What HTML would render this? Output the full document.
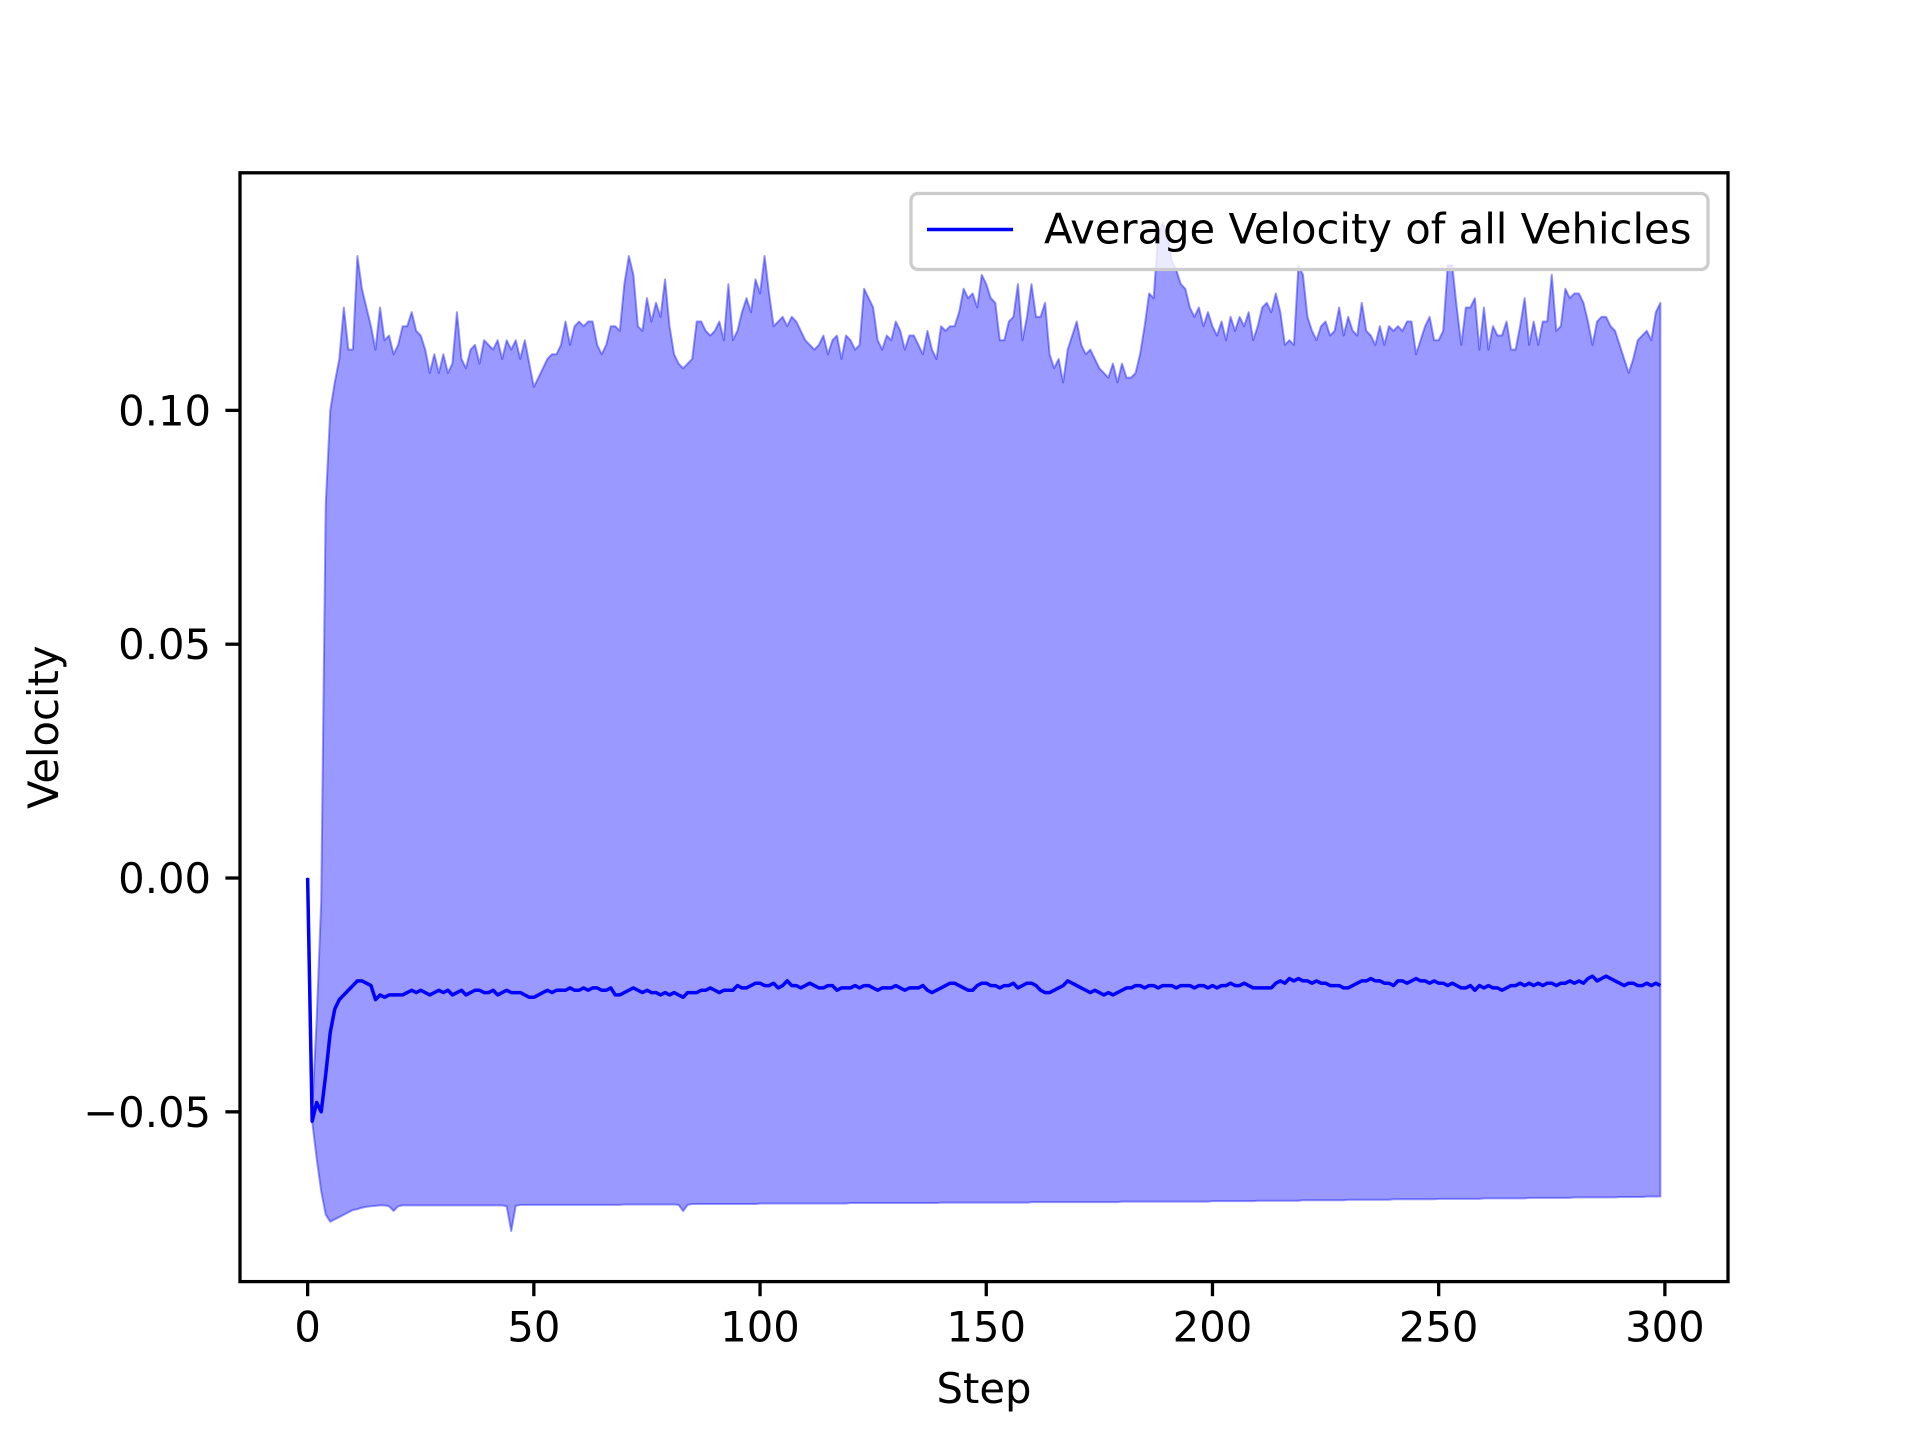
<!DOCTYPE html>
<html><head><meta charset="utf-8"><style>
html,body{margin:0;padding:0;background:#fff;}
svg{display:block;font-family:"DejaVu Sans","Liberation Sans",sans-serif;}
</style></head><body>
<svg id="chart" width="1920" height="1440" viewBox="0 0 1920 1440">
<rect width="1920" height="1440" fill="#fff"/>
<g id="plot"></g>
<g id="axes"></g>
</svg>
<script>
const steps = Array.from({length:300},(_,i)=>i);
const meanVel = [
0,-0.052,-0.048,-0.050,-0.042,-0.033,-0.028,-0.026,-0.025,-0.024,-0.023,
-0.022,-0.022,-0.0225,-0.023,-0.026,-0.025,-0.0255,-0.025,-0.025,
-0.025,-0.025,-0.0245,-0.024,-0.0245,-0.024,-0.0245,-0.025,-0.0245,-0.024,
-0.0245,-0.024,-0.025,-0.0245,-0.024,-0.025,-0.0245,-0.024,-0.024,-0.0245,
-0.0245,-0.024,-0.025,-0.0245,-0.024,-0.0245,-0.0245,-0.0245,-0.025,-0.0255,
-0.0255,-0.025,-0.0245,-0.024,-0.0245,-0.024,-0.024,-0.024,-0.0235,-0.024,
-0.024,-0.0235,-0.024,-0.0235,-0.0235,-0.024,-0.024,-0.0235,-0.025,-0.025,
-0.0245,-0.024,-0.0235,-0.024,-0.0245,-0.024,-0.0245,-0.0245,-0.025,-0.0245,
-0.025,-0.0245,-0.025,-0.0255,-0.0245,-0.0245,-0.0245,-0.024,-0.024,-0.0235,
-0.024,-0.0245,-0.024,-0.024,-0.024,-0.023,-0.0235,-0.0235,-0.023,-0.0225,
-0.0225,-0.023,-0.023,-0.0225,-0.0235,-0.023,-0.022,-0.023,-0.023,-0.0235,
-0.023,-0.0225,-0.023,-0.0235,-0.0235,-0.023,-0.023,-0.024,-0.0235,-0.0235,
-0.0235,-0.023,-0.0235,-0.023,-0.023,-0.0235,-0.024,-0.0235,-0.0235,-0.0235,
-0.023,-0.0235,-0.024,-0.0235,-0.0235,-0.0235,-0.023,-0.024,-0.0245,-0.024,
-0.0235,-0.023,-0.0225,-0.0225,-0.023,-0.0235,-0.024,-0.024,-0.023,-0.0225,
-0.0225,-0.023,-0.023,-0.0235,-0.023,-0.023,-0.0225,-0.0235,-0.023,-0.0225,
-0.0225,-0.023,-0.024,-0.0245,-0.0245,-0.024,-0.0235,-0.023,-0.022,-0.0225,
-0.023,-0.0235,-0.024,-0.0245,-0.024,-0.0245,-0.025,-0.0245,-0.025,-0.0245,
-0.024,-0.0235,-0.0235,-0.023,-0.023,-0.0235,-0.023,-0.023,-0.0235,-0.023,
-0.023,-0.023,-0.0235,-0.023,-0.023,-0.023,-0.0235,-0.023,-0.023,-0.0235,
-0.023,-0.0235,-0.023,-0.023,-0.0225,-0.023,-0.023,-0.0225,-0.023,-0.0235,
-0.0235,-0.0235,-0.0235,-0.0235,-0.0225,-0.022,-0.0225,-0.0215,-0.022,-0.0215,
-0.022,-0.022,-0.0225,-0.022,-0.0225,-0.0225,-0.023,-0.023,-0.023,-0.0235,
-0.0235,-0.023,-0.0225,-0.022,-0.022,-0.0215,-0.022,-0.022,-0.0225,-0.0225,
-0.023,-0.022,-0.022,-0.0225,-0.022,-0.0215,-0.022,-0.022,-0.0225,-0.022,
-0.0225,-0.0225,-0.023,-0.0225,-0.023,-0.0235,-0.0235,-0.023,-0.024,-0.023,
-0.0235,-0.023,-0.0235,-0.0235,-0.024,-0.0235,-0.023,-0.023,-0.0225,-0.023,
-0.0225,-0.023,-0.0225,-0.023,-0.0225,-0.0225,-0.023,-0.0225,-0.0225,-0.022,
-0.0225,-0.022,-0.0225,-0.0215,-0.021,-0.022,-0.0215,-0.021,-0.0215,-0.022,
-0.0225,-0.023,-0.0225,-0.0225,-0.023,-0.023,-0.0225,-0.023,-0.0225,-0.023
];
const upperVel = [
0,-0.05,-0.03,-0.005,0.08,0.100,0.106,0.111,0.122,0.113,
0.113,0.133,0.126,0.122,0.118,0.113,0.122,0.115,0.116,0.112,
0.114,0.118,0.118,0.121,0.117,0.116,0.113,0.108,0.112,0.108,
0.112,0.108,0.110,0.121,0.111,0.109,0.113,0.114,0.110,0.115,
0.114,0.113,0.115,0.111,0.115,0.113,0.115,0.111,0.115,0.110,
0.105,0.107,0.109,0.111,0.112,0.112,0.114,0.119,0.114,0.118,
0.119,0.118,0.119,0.119,0.114,0.112,0.114,0.118,0.118,0.117,
0.127,0.133,0.129,0.118,0.117,0.124,0.119,0.123,0.120,0.128,
0.118,0.112,0.110,0.109,0.110,0.111,0.119,0.119,0.117,0.116,
0.117,0.119,0.115,0.127,0.115,0.117,0.121,0.124,0.121,0.128,
0.125,0.133,0.125,0.118,0.119,0.120,0.118,0.120,0.119,0.117,
0.115,0.114,0.113,0.114,0.116,0.112,0.115,0.116,0.111,0.116,
0.115,0.113,0.114,0.126,0.124,0.122,0.115,0.113,0.116,0.115,
0.119,0.117,0.113,0.116,0.116,0.114,0.112,0.117,0.113,0.111,
0.118,0.117,0.118,0.118,0.121,0.126,0.124,0.125,0.122,0.129,
0.127,0.124,0.123,0.115,0.115,0.119,0.120,0.127,0.115,0.120,
0.127,0.120,0.120,0.123,0.112,0.109,0.111,0.106,0.113,0.116,
0.119,0.114,0.112,0.113,0.111,0.109,0.108,0.107,0.110,0.106,
0.110,0.107,0.107,0.108,0.112,0.118,0.125,0.124,0.138,0.140,
0.138,0.132,0.130,0.127,0.126,0.122,0.120,0.122,0.118,0.121,
0.118,0.116,0.119,0.115,0.120,0.117,0.120,0.118,0.121,0.115,
0.118,0.122,0.123,0.121,0.125,0.121,0.114,0.115,0.114,0.131,
0.129,0.120,0.117,0.115,0.118,0.119,0.116,0.117,0.122,0.116,
0.120,0.117,0.116,0.123,0.117,0.116,0.114,0.118,0.114,0.118,
0.117,0.118,0.117,0.119,0.119,0.112,0.115,0.118,0.120,0.115,
0.115,0.117,0.131,0.131,0.122,0.114,0.122,0.122,0.124,0.113,
0.122,0.113,0.118,0.116,0.116,0.119,0.113,0.113,0.118,0.124,
0.114,0.119,0.114,0.119,0.119,0.129,0.117,0.118,0.126,0.124,
0.125,0.125,0.123,0.119,0.114,0.119,0.120,0.120,0.118,0.117,
0.114,0.111,0.108,0.111,0.115,0.116,0.117,0.115,0.121,0.123
];
const lowerVel = [
0,-0.052,-0.060,-0.067,-0.072,-0.0735,-0.073,-0.0725,-0.072,-0.0715,
-0.071,-0.0708,-0.0705,-0.0703,-0.0702,-0.0701,-0.0700,-0.0700,-0.0702,-0.0712,
-0.0702,-0.0700,-0.0700,-0.0700,-0.0700,-0.0700,-0.0700,-0.0700,-0.0700,-0.0700,
-0.0700,-0.0700,-0.0700,-0.0700,-0.0700,-0.0700,-0.0700,-0.0700,-0.0700,-0.0700,
-0.0700,-0.0700,-0.0700,-0.0700,-0.0702,-0.0755,-0.0701,-0.0699,-0.0699,-0.0699,
-0.0699,-0.0699,-0.0699,-0.0699,-0.0699,-0.0699,-0.0699,-0.0699,-0.0699,-0.0699,
-0.0699,-0.0699,-0.0699,-0.0699,-0.0699,-0.0699,-0.0699,-0.0699,-0.0699,-0.0699,
-0.0698,-0.0698,-0.0698,-0.0698,-0.0698,-0.0698,-0.0698,-0.0698,-0.0698,-0.0698,
-0.0698,-0.0698,-0.0699,-0.0712,-0.0699,-0.0697,-0.0697,-0.0697,-0.0697,-0.0697,
-0.0697,-0.0697,-0.0697,-0.0697,-0.0697,-0.0697,-0.0697,-0.0697,-0.0697,-0.0697,
-0.0696,-0.0696,-0.0696,-0.0696,-0.0696,-0.0696,-0.0696,-0.0696,-0.0696,-0.0696,
-0.0696,-0.0696,-0.0696,-0.0696,-0.0696,-0.0696,-0.0696,-0.0696,-0.0696,-0.0696,
-0.0695,-0.0695,-0.0695,-0.0695,-0.0695,-0.0695,-0.0695,-0.0695,-0.0695,-0.0695,
-0.0695,-0.0695,-0.0695,-0.0695,-0.0695,-0.0695,-0.0695,-0.0695,-0.0695,-0.0695,
-0.0694,-0.0694,-0.0694,-0.0694,-0.0694,-0.0694,-0.0694,-0.0694,-0.0694,-0.0694,
-0.0694,-0.0694,-0.0694,-0.0694,-0.0694,-0.0694,-0.0694,-0.0694,-0.0694,-0.0694,
-0.0693,-0.0693,-0.0693,-0.0693,-0.0693,-0.0693,-0.0693,-0.0693,-0.0693,-0.0693,
-0.0693,-0.0693,-0.0693,-0.0693,-0.0693,-0.0693,-0.0693,-0.0693,-0.0693,-0.0693,
-0.0692,-0.0692,-0.0692,-0.0692,-0.0692,-0.0692,-0.0692,-0.0692,-0.0692,-0.0692,
-0.0692,-0.0692,-0.0692,-0.0692,-0.0692,-0.0692,-0.0692,-0.0692,-0.0692,-0.0692,
-0.0691,-0.0691,-0.0691,-0.0691,-0.0691,-0.0691,-0.0691,-0.0691,-0.0691,-0.0691,
-0.0690,-0.0690,-0.0690,-0.0690,-0.0690,-0.0690,-0.0690,-0.0690,-0.0690,-0.0690,
-0.0689,-0.0689,-0.0689,-0.0689,-0.0689,-0.0689,-0.0689,-0.0689,-0.0689,-0.0689,
-0.0688,-0.0688,-0.0688,-0.0688,-0.0688,-0.0688,-0.0688,-0.0688,-0.0688,-0.0688,
-0.0687,-0.0687,-0.0687,-0.0687,-0.0687,-0.0687,-0.0687,-0.0687,-0.0687,-0.0687,
-0.0686,-0.0686,-0.0686,-0.0686,-0.0686,-0.0686,-0.0686,-0.0686,-0.0686,-0.0686,
-0.0685,-0.0685,-0.0685,-0.0685,-0.0685,-0.0685,-0.0685,-0.0685,-0.0685,-0.0685,
-0.0684,-0.0684,-0.0684,-0.0684,-0.0684,-0.0684,-0.0684,-0.0684,-0.0684,-0.0684,
-0.0683,-0.0683,-0.0683,-0.0683,-0.0683,-0.0683,-0.0683,-0.0683,-0.0683,-0.0683,
-0.0682,-0.0682,-0.0682,-0.0682,-0.0682,-0.0682,-0.0681,-0.0681,-0.0681,-0.0681
];
const xTicks = [0,50,100,150,200,250,300];
const xTickLabels = ["0","50","100","150","200","250","300"];
const yTicks = [-0.05,0,0.05,0.10];
const yTickLabels = ["\u22120.05","0.00","0.05","0.10"];

const AX = {l:240, r:1728, t:172.8, b:1281.6};
const XMIN=-14.95, XMAX=313.95, YMIN=-0.0863, YMAX=0.1508;
function sx(v){return AX.l+(v-XMIN)/(XMAX-XMIN)*(AX.r-AX.l);}
function sy(v){return AX.t+(YMAX-v)/(YMAX-YMIN)*(AX.b-AX.t);}
const NS="http://www.w3.org/2000/svg";
function mk(tag,attrs,parent){const e=document.createElementNS(NS,tag);for(const k in attrs)e.setAttribute(k,attrs[k]);parent.appendChild(e);return e;}
const plot=document.getElementById('plot'), axes=document.getElementById('axes');

let up=steps.map((s,i)=>sx(s).toFixed(2)+','+sy(upperVel[i]).toFixed(2));
let lo=steps.map((s,i)=>sx(s).toFixed(2)+','+sy(lowerVel[i]).toFixed(2)).reverse();
const band=mk('polygon',{points:up.concat(lo).join(' '),fill:'#0000ff','fill-opacity':0.4,stroke:'#0000ff','stroke-opacity':0.4,'stroke-width':2,'stroke-linejoin':'round'},plot);


const ml=mk('polyline',{points:steps.map((s,i)=>sx(s).toFixed(2)+','+sy(meanVel[i]).toFixed(2)).join(' '),fill:'none',stroke:'#0000ff','stroke-width':3.5,'stroke-linejoin':'round'},plot);



const fr=mk('rect',{x:AX.l,y:AX.t,width:AX.r-AX.l,height:AX.b-AX.t,fill:'none',stroke:'#000','stroke-width':3.3},axes);



xTicks.forEach((v,i)=>{
  const x=sx(v);
  const t=mk('line',{x1:x,x2:x,y1:AX.b,y2:AX.b+14.6,stroke:'#000','stroke-width':3.3},axes);
  
  
  const tx=mk('text',{x:x,y:AX.b+60,'text-anchor':'middle','font-size':41.7,fill:'#000'},axes);
  tx.textContent=xTickLabels[i];
  
  
});
yTicks.forEach((v,i)=>{
  const y=sy(v);
  const t=mk('line',{x1:AX.l-14.6,x2:AX.l,y1:y,y2:y,stroke:'#000','stroke-width':3.3},axes);
  
  
  const tx=mk('text',{x:AX.l-29,y:y+15,'text-anchor':'end','font-size':41.7,fill:'#000'},axes);
  tx.textContent=yTickLabels[i];
  
  
});
const xl=mk('text',{x:(AX.l+AX.r)/2,y:1403,'text-anchor':'middle','font-size':41.7,fill:'#000'},axes);
xl.textContent='Step';


const yl=mk('text',{x:0,y:0,'text-anchor':'middle','font-size':41.7,fill:'#000',transform:'translate(58,'+((AX.t+AX.b)/2)+') rotate(-90)'},axes);
yl.textContent='Velocity';



const lg=mk('g',{},axes);


mk('rect',{x:911,y:193.5,width:797,height:76,rx:7,fill:'#fff','fill-opacity':0.8,stroke:'#cccccc','stroke-width':3.3},lg);
const ll=mk('line',{x1:927,x2:1013,y1:229.5,y2:229.5,stroke:'#0000ff','stroke-width':3.5},lg);


const lt=mk('text',{x:1044,y:243.5,'font-size':41.7,fill:'#000'},lg);
lt.textContent='Average Velocity of all Vehicles';


</script>
</body></html>
